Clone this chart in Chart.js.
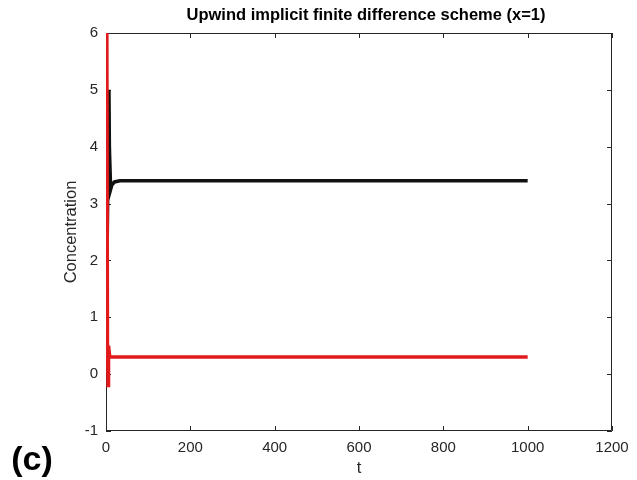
<!DOCTYPE html>
<html>
<head>
<meta charset="utf-8">
<script src="https://cdn.jsdelivr.net/npm/chart.js@4"></script>
<style>
  html, body { margin: 0; padding: 0; background: #fff; }
  #wrap { width: 637px; height: 480px; }
</style>
</head>
<body>
<div id="wrap"><canvas id="chart" width="637" height="480"></canvas></div>
<script>
// values
const redT = [2, 3.5, 5, 6, 9, 1000];
const redC = [6, 0.5, -0.2, 0.5, 0.3, 0.3];
const blackT = [0, 7, 8, 11, 14, 20, 33, 1000];
const blackC = [0.5, 5, 4, 3.25, 3.33, 3.38, 3.4, 3.4];
const xTicks = [0, 200, 400, 600, 800, 1000, 1200];
const yTicks = [-1, 0, 1, 2, 3, 4, 5, 6];

const axisColor = '#262626';
const fontFamily = '"Liberation Sans", Arial, sans-serif';

function toPoints(xs, ys) {
  return xs.map((x, i) => ({ x: x, y: ys[i] }));
}

// box and inward ticks under the data, title and panel letter on top
const matlabAxes = {
  id: 'matlabAxes',
  beforeDatasetsDraw(chart) {
    const ctx = chart.ctx;
    const a = chart.chartArea;
    const xs = chart.scales.x, ys = chart.scales.y;
    const len = 5;
    ctx.save();
    ctx.strokeStyle = axisColor;
    ctx.lineWidth = 1;
    ctx.beginPath();
    ctx.rect(a.left + 0.5, a.top + 0.5, a.right - a.left - 1, a.bottom - a.top - 1);
    xTicks.forEach(v => {
      const px = Math.round(xs.getPixelForValue(v)) + 0.5;
      ctx.moveTo(px, a.bottom); ctx.lineTo(px, a.bottom - len);
      ctx.moveTo(px, a.top); ctx.lineTo(px, a.top + len);
    });
    yTicks.forEach(v => {
      const py = Math.round(ys.getPixelForValue(v)) + 0.5;
      ctx.moveTo(a.left, py); ctx.lineTo(a.left + len, py);
      ctx.moveTo(a.right, py); ctx.lineTo(a.right - len, py);
    });
    ctx.stroke();
    ctx.restore();
  },
  afterDraw(chart) {
    const ctx = chart.ctx;
    const a = chart.chartArea;
    ctx.save();
    ctx.fillStyle = '#000';
    ctx.textAlign = 'center';
    ctx.textBaseline = 'alphabetic';
    ctx.font = 'bold 16.5px ' + fontFamily;
    ctx.fillText('Upwind implicit finite difference scheme (x=1)', (a.left + a.right) / 2 + 7, 20);

    ctx.font = 'bold 34px ' + fontFamily;
    ctx.fillText('(c)', 32, 470);
    ctx.restore();
  }
};

const config = {
  type: 'line',
  data: {
    datasets: [
      {
        label: 'black',
        data: toPoints(blackT, blackC),
        borderColor: '#111111',
        borderWidth: 3.5,
        pointRadius: 0,
        tension: 0,
        fill: false,
        order: 2
      },
      {
        label: 'red',
        data: toPoints(redT, redC),
        borderColor: '#e31a1c',
        borderWidth: 3.5,
        pointRadius: 0,
        tension: 0,
        fill: false,
        order: 1
      }
    ]
  },
  options: {
    responsive: false,
    animation: false,
    layout: { padding: { left: 58, right: 25, top: 33, bottom: 0 } },
    plugins: {
      legend: { display: false },
      tooltip: { enabled: false },
      title: { display: false }
    },
    scales: {
      x: {
        type: 'linear',
        min: 0,
        max: 1200,
        afterFit: s => { s.height = 49; },
        afterBuildTicks: s => { s.ticks = xTicks.map(v => ({ value: v })); },
        grid: { display: false, drawTicks: false },
        border: { display: false },
        ticks: {
          color: axisColor,
          padding: 8,
          maxRotation: 0,
          autoSkip: false,
          callback: v => String(v),
          font: { family: fontFamily, size: 15 }
        },
        title: {
          display: true,
          text: 't',
          color: axisColor,
          padding: { top: 0, bottom: 2 },
          font: { family: fontFamily, size: 16.5 }
        }
      },
      y: {
        type: 'linear',
        min: -1,
        max: 6,
        afterFit: s => { s.width = 48; },
        afterBuildTicks: s => { s.ticks = yTicks.map(v => ({ value: v })); },
        grid: { display: false, drawTicks: false },
        border: { display: false },
        ticks: {
          color: axisColor,
          padding: 8,
          autoSkip: false,
          callback: v => String(v),
          font: { family: fontFamily, size: 15 }
        },
        title: {
          display: true,
          text: 'Concentration',
          color: axisColor,
          padding: { top: 4, bottom: 0 },
          font: { family: fontFamily, size: 16.5 }
        }
      }
    }
  },
  plugins: [matlabAxes]
};

new Chart(document.getElementById('chart'), config);
</script>
</body>
</html>
